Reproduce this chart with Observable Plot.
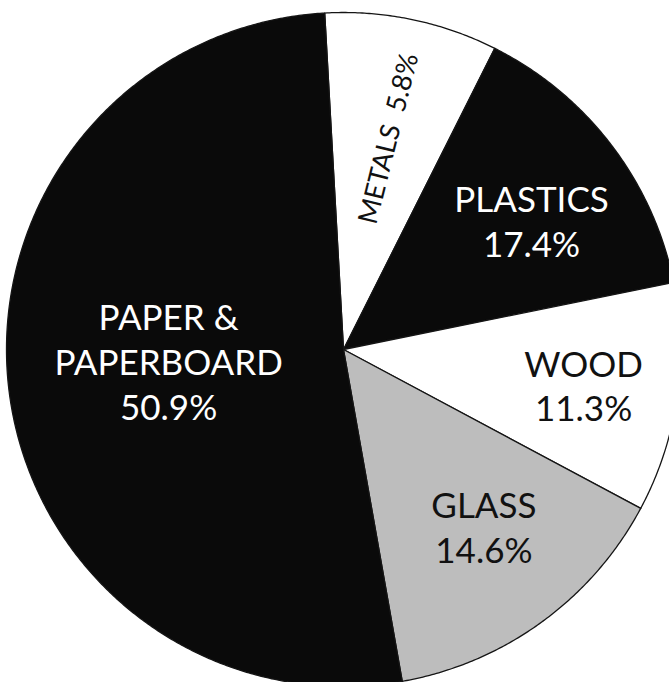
<!DOCTYPE html>
<html><head><meta charset="utf-8">
<script src="https://cdn.jsdelivr.net/npm/d3@7"></script>
<script src="https://cdn.jsdelivr.net/npm/@observablehq/plot@0.6"></script>
<style>body{margin:0;background:#fff;} #chart svg{display:block;}</style>
</head><body><div id="chart"></div>
<script>
// ---- data ----
const categories = ["METALS", "PLASTICS", "WOOD", "GLASS", "PAPER & PAPERBOARD"];
const labelNames = ["METALS", "PLASTICS", "WOOD", "GLASS", "PAPER &\nPAPERBOARD"];
const labelPercents = ["5.8%", "17.4%", "11.3%", "14.6%", "50.9%"];
// share of the circle each drawn slice covers (percent)
const sliceShares = [8.3, 14.4, 11.0, 14.4, 51.9];

// ---- styling / layout ----
const startAngle = -3.2; // degrees clockwise from 12 o'clock
const fills = ["#ffffff", "#0a0a0a", "#ffffff", "#bdbdbd", "#0a0a0a"];
const inks = ["#111111", "#ffffff", "#111111", "#111111", "#ffffff"];
const labelRadius = [0.64, 0.677, 0.72, 0.67, 0.52];
const labelNudge = [0.4, 2.9, 0, -2.5, 3];

const total = d3.sum(sliceShares);
let acc = startAngle;
const slices = categories.map((name, i) => {
  const a0 = acc;
  const a1 = acc + sliceShares[i] / total * 360;
  acc = a1;
  return {name, a0, a1, fill: fills[i], ink: inks[i], i};
});

const rad = d => d * Math.PI / 180;
const polyPoints = [];
for (const s of slices) {
  polyPoints.push({name: s.name, fill: s.fill, x: 0, y: 0});
  const n = Math.ceil((s.a1 - s.a0) / 0.4);
  for (let k = 0; k <= n; k++) {
    const a = rad(s.a0 + (s.a1 - s.a0) * k / n);
    polyPoints.push({name: s.name, fill: s.fill, x: Math.sin(a), y: Math.cos(a)});
  }
  polyPoints.push({name: s.name, fill: s.fill, x: 0, y: 0});
}

const labels = slices.map((s, i) => {
  const a = rad((s.a0 + s.a1) / 2 + labelNudge[i]);
  const r = labelRadius[i];
  return {
    x: r * Math.sin(a), y: r * Math.cos(a),
    text: i === 0 ? labelNames[i] + "\u00a0 " + labelPercents[i] : labelNames[i] + "\n" + labelPercents[i],
    ink: s.ink, i
  };
});

const chart = Plot.plot({
  width: 669,
  height: 682,
  margin: 0,
  x: {domain: [-1, 1], range: [6, 680], axis: null},
  y: {domain: [-1, 1], range: [686, 12], axis: null},
  color: {type: "identity"},
  style: {fontFamily: "Lato, 'Open Sans', sans-serif", background: "#fff"},
  marks: [
    Plot.line(polyPoints, {x: "x", y: "y", z: "name", fill: "fill", stroke: "#151515", strokeWidth: 1.3, strokeLinejoin: "round", curve: "linear"}),
    Plot.text(labels.filter(d => d.i !== 0), {x: "x", y: "y", text: "text", fill: "ink", fontSize: 35, lineHeight: 1.28, fontFamily: "Lato"}),
    Plot.text(labels.filter(d => d.i === 0), {x: "x", y: "y", text: "text", fill: "ink", fontSize: 27, rotate: -76, fontFamily: "Lato"})
  ]
});
document.getElementById("chart").appendChild(chart);
</script>
</body></html>
